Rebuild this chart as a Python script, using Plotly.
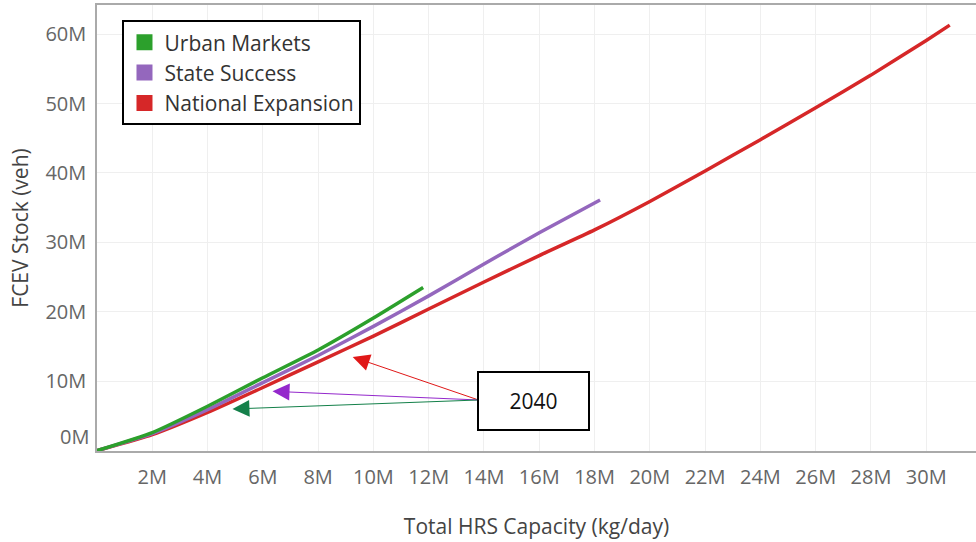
import plotly.graph_objects as go

# HRS capacity (kg/day) vs FCEV stock (veh)
urban_x = [0, 2e6, 4e6, 6e6, 8e6, 10e6, 11.8e6]
urban_y = [0, 2.6e6, 6.4e6, 10.5e6, 14.5e6, 19.1e6, 23.5e6]

state_x = [0, 2e6, 4e6, 6e6, 8e6, 10e6, 12e6, 14e6, 16e6, 18.2e6]
state_y = [0, 2.45e6, 5.9e6, 9.8e6, 13.7e6, 17.9e6, 22.3e6, 26.9e6, 31.4e6, 36.1e6]

national_x = [0, 2e6, 4e6, 6e6, 8e6, 10e6, 12e6, 14e6, 16e6, 18e6, 20e6,
              22e6, 24e6, 26e6, 28e6, 30e6, 30.85e6]
national_y = [0, 2.3e6, 5.5e6, 9.1e6, 12.8e6, 16.5e6, 20.4e6, 24.3e6, 28.1e6, 31.8e6, 35.9e6,
              40.3e6, 44.8e6, 49.4e6, 54.1e6, 59.1e6, 61.3e6]

x_tick_vals = [2e6, 4e6, 6e6, 8e6, 10e6, 12e6, 14e6, 16e6, 18e6, 20e6, 22e6, 24e6, 26e6, 28e6, 30e6]
x_tick_text = ['2M', '4M', '6M', '8M', '10M', '12M', '14M', '16M', '18M', '20M', '22M', '24M', '26M', '28M', '30M']
y_tick_vals = [10e6, 20e6, 30e6, 40e6, 50e6, 60e6]
y_tick_text = ['10M', '20M', '30M', '40M', '50M', '60M']

# 2040 points the callout arrows point at
label_2040 = '2040'
arrow_tail = (13.8e6, 7.3e6)
arrow_tips = [
    (9.25e6, 13.5e6, '#e01818'),   # National Expansion
    (6.35e6, 8.55e6, '#9428cc'),   # State Success
    (4.9e6, 6.0e6, '#14804a'),     # Urban Markets
]

series = [
    ('Urban Markets', urban_x, urban_y, '#2ca02c'),
    ('State Success', state_x, state_y, '#9467bd'),
    ('National Expansion', national_x, national_y, '#d62728'),
]

FONT = 'Open Sans, Noto Sans, sans-serif'

fig = go.Figure()

# draw red first so green sits on top like the original
for name, xs, ys, color in reversed(series):
    fig.add_trace(go.Scatter(x=xs, y=ys, mode='lines',
                             line=dict(color=color, width=3.5, shape='spline', smoothing=0.5),
                             name=name, showlegend=False, hoverinfo='skip'))

# square swatches for the legend
for name, xs, ys, color in series:
    fig.add_trace(go.Scatter(x=[None], y=[None], mode='markers', name=name,
                             marker=dict(symbol='square', size=18, color=color)))

for tx, ty, color in arrow_tips:
    fig.add_annotation(x=tx, y=ty, ax=arrow_tail[0], ay=arrow_tail[1], xref='x', yref='y',
                       axref='x', ayref='y', text='', showarrow=True, arrowhead=2,
                       arrowsize=3.4, arrowwidth=1, arrowcolor=color)

fig.add_annotation(x=15.8e6, y=7.2e6, xref='x', yref='y', text=label_2040, showarrow=False,
                   width=107, height=54, bgcolor='white', bordercolor='black', borderwidth=2,
                   font=dict(family=FONT, size=21, color='#111'))

# Tableau draws the zero label nudged above the axis line
fig.add_annotation(x=0, y=2.0e6, xref='paper', yref='y', text='0M', showarrow=False,
                   xanchor='right', xshift=-6, font=dict(family=FONT, size=20, color='#666'))

fig.update_layout(
    width=976, height=542,
    margin=dict(l=97, r=0, t=5, b=91, autoexpand=False),
    paper_bgcolor='white', plot_bgcolor='white',
    font=dict(family=FONT, size=20, color='#666'),
    legend=dict(x=0.029, y=0.966, xanchor='left', yanchor='top',
                bgcolor='white', bordercolor='black', borderwidth=2,
                font=dict(family=FONT, size=21, color='#333')),
    xaxis=dict(range=[0, 31.8e6], tickvals=x_tick_vals, ticktext=x_tick_text,
               showgrid=True, gridcolor='#efefef', zeroline=False, automargin=False,
               showline=True, linecolor='#aaa', linewidth=1.5, mirror=True,
               ticks='', ticklabelstandoff=7,
               title=dict(text='Total HRS Capacity (kg/day)', standoff=31,
                          font=dict(family=FONT, size=21, color='#444'))),
    yaxis=dict(range=[-0.05e6, 64.2e6], tickvals=y_tick_vals, ticktext=y_tick_text,
               showgrid=True, gridcolor='#efefef', zeroline=False, automargin=False,
               showline=True, linecolor='#aaa', linewidth=1.5,
               ticks='', ticklabelstandoff=5,
               title=dict(text='FCEV Stock (veh)', standoff=11,
                          font=dict(family=FONT, size=21, color='#444'))),
)

# the page body has a default 8px margin; drop it so the figure sits at the window corner
fig.write_html('out.html', config={'displayModeBar': False},
               post_script="document.body.style.margin='0px';")
